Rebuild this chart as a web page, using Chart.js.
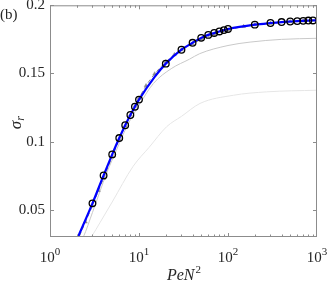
<!DOCTYPE html>
<html>
<head>
<meta charset="utf-8">
<script src="https://cdn.jsdelivr.net/npm/chart.js@4/dist/chart.umd.min.js"></script>
<style>
  html, body { margin: 0; padding: 0; background: #fff; }
  canvas { display: block; }
</style>
</head>
<body>
<canvas id="c" width="327" height="282"></canvas>
<script>
// ── Data ──
const circleX = [3, 4, 5, 6, 7, 8, 9, 10, 20, 30, 40, 50, 60, 70, 80, 90, 100, 200, 300, 400, 500, 600, 700, 800, 900];
const circleY = [0.0547, 0.0752, 0.0906, 0.1026, 0.112, 0.1195, 0.1256, 0.1308, 0.1572, 0.1674, 0.1725, 0.1761, 0.1783, 0.1797, 0.1808, 0.1818, 0.1826, 0.1858, 0.187, 0.1877, 0.1881, 0.1884, 0.1886, 0.1888, 0.1889];

const blueX = [2, 3, 4, 5, 6, 7, 8, 9, 10, 15, 20, 30, 40, 50, 60, 70, 80, 90, 100, 200, 300, 400, 500, 600, 700, 800, 900, 1000];
const blueY = [0.028, 0.0547, 0.0752, 0.0906, 0.1026, 0.112, 0.1195, 0.1256, 0.1308, 0.1475, 0.1572, 0.1674, 0.1725, 0.1761, 0.1783, 0.1797, 0.1808, 0.1818, 0.1826, 0.1858, 0.187, 0.1877, 0.1881, 0.1884, 0.1886, 0.1888, 0.1889, 0.189];

const dashX = [2, 2.5, 3, 3.5, 4, 5, 6, 7, 8, 9, 10, 12, 15, 20, 25, 30, 40, 50, 70, 100, 150, 200, 300, 500, 700, 1000];
const dashY = [0.026, 0.041, 0.053, 0.064, 0.073, 0.089, 0.1015, 0.1115, 0.1195, 0.126, 0.1318, 0.141, 0.1497, 0.1585, 0.1638, 0.1674, 0.1718, 0.175, 0.1788, 0.1818, 0.1845, 0.1858, 0.1868, 0.188, 0.1885, 0.1888];

const midX = [2, 2.37, 3, 4.34, 5.6, 7.3, 10.3, 14.5, 23, 37, 48, 100, 177, 400, 1000];
const midY = [0.022, 0.030, 0.048, 0.077, 0.094, 0.111, 0.128, 0.1426, 0.1535, 0.1605, 0.1645, 0.1705, 0.173, 0.175, 0.1758];

const faintX = [2, 2.94, 3.65, 5, 8.6, 13, 20.5, 30, 48.5, 115, 272, 1000];
const faintY = [0.015, 0.0304, 0.0406, 0.0557, 0.0819, 0.0958, 0.111, 0.1185, 0.128, 0.134, 0.1365, 0.1377];

const yTicks = [0.05, 0.1, 0.15, 0.2];
const yTickLabels = ['0.05', '0.1', '0.15', '0.2'];
const xDecades = [1, 10, 100, 1000];
const xDecadeExp = ['0', '1', '2', '3'];

const pts = (xs, ys) => xs.map((x, i) => ({ x, y: ys[i] }));

const AXIS = '#8c8c8c';
const TEXT = '#262626';
const SERIF = "'Liberation Serif', 'DejaVu Serif', serif";

// ── Axes, ticks and labels drawn with the scales ──
const frame = {
  id: 'frame',
  afterDatasetsDraw(chart) {
    const { ctx, chartArea: a, scales: { x, y } } = chart;
    ctx.save();
    ctx.strokeStyle = AXIS;
    ctx.lineWidth = 1;
    ctx.strokeRect(a.left + 0.5, a.top + 0.5, a.right - a.left - 1, a.bottom - a.top - 1);

    ctx.beginPath();
    // y ticks, left and right, inward
    yTicks.forEach(v => {
      const py = Math.round(y.getPixelForValue(v)) + 0.5;
      ctx.moveTo(a.left, py); ctx.lineTo(a.left + 4, py);
      ctx.moveTo(a.right, py); ctx.lineTo(a.right - 4, py);
    });
    // x ticks, log major and minor, bottom and top
    for (let d = 0; d < 3; d++) {
      for (let m = 1; m <= 9; m++) {
        const v = xDecades[d] * m;
        const px = Math.round(x.getPixelForValue(v)) + 0.5;
        const len = m === 1 ? 4 : 2.5;
        ctx.moveTo(px, a.bottom); ctx.lineTo(px, a.bottom - len);
        ctx.moveTo(px, a.top); ctx.lineTo(px, a.top + len);
      }
    }
    ctx.stroke();

    ctx.fillStyle = TEXT;
    // y tick labels
    ctx.font = '15px ' + SERIF;
    ctx.textAlign = 'right';
    ctx.textBaseline = 'middle';
    yTicks.forEach((v, i) => ctx.fillText(yTickLabels[i], a.left - 5, y.getPixelForValue(v)));

    // x tick labels 10^k
    ctx.textBaseline = 'alphabetic';
    ctx.textAlign = 'left';
    xDecades.forEach((v, i) => {
      ctx.font = '15px ' + SERIF;
      const w1 = ctx.measureText('10').width;
      ctx.font = '11px ' + SERIF;
      const w2 = ctx.measureText(xDecadeExp[i]).width;
      const left = x.getPixelForValue(v) - (w1 + w2) / 2;
      ctx.font = '15px ' + SERIF;
      ctx.fillText('10', left, 262);
      ctx.font = '11px ' + SERIF;
      ctx.fillText(xDecadeExp[i], left + w1, 255);
    });

    // x axis label PeN^2
    ctx.font = 'italic 16px ' + SERIF;
    const wl = ctx.measureText('PeN').width;
    ctx.font = '11px ' + SERIF;
    const ws = ctx.measureText('2').width;
    const lx = (a.left + a.right) / 2 - (wl + ws) / 2;
    ctx.font = 'italic 16px ' + SERIF;
    ctx.fillText('PeN', lx, 280);
    ctx.font = '11px ' + SERIF;
    ctx.fillText('2', lx + wl + 1, 273);

    // y axis label sigma_r
    ctx.save();
    ctx.translate(21, (a.top + a.bottom) / 2 + 8);
    ctx.rotate(-Math.PI / 2);
    ctx.font = 'italic 17px ' + SERIF;
    ctx.fillText('σ', 0, 0);
    const wsig = ctx.measureText('σ').width;
    ctx.font = 'italic 12px ' + SERIF;
    ctx.fillText('r', wsig, 3);
    ctx.restore();

    // panel tag
    ctx.font = '15px ' + SERIF;
    ctx.fillText('(b)', 0, 19);
    ctx.restore();
  }
};

const lineBase = { showLine: true, pointRadius: 0, fill: false, clip: 0, cubicInterpolationMode: 'monotone' };

new Chart(document.getElementById('c'), {
  type: 'scatter',
  data: {
    datasets: [
      { ...lineBase, label: 'faint', data: pts(faintX, faintY), borderColor: '#e6e6e6', borderWidth: 1, order: 5 },
      { ...lineBase, label: 'mid', data: pts(midX, midY), borderColor: '#c9c9c9', borderWidth: 1, order: 4 },
      { ...lineBase, label: 'dash', data: pts(dashX, dashY), borderColor: '#8a8a8a', borderWidth: 1, borderDash: [4, 3],
        pointRadius: 2.2, pointStyle: 'triangle', pointBackgroundColor: '#8a8a8a', pointBorderColor: '#8a8a8a', pointBorderWidth: 0.5, order: 3 },
      { ...lineBase, label: 'blue', data: pts(blueX, blueY), borderColor: '#0000ff', borderWidth: 2.2, order: 2 },
      { label: 'circles', data: pts(circleX, circleY), showLine: false, pointRadius: 3.3, pointBorderWidth: 1.3,
        pointBorderColor: '#000', pointBackgroundColor: 'rgba(0,0,0,0)', order: 1 }
    ]
  },
  options: {
    responsive: false,
    animation: false,
    devicePixelRatio: 1,
    layout: { padding: { left: 50, right: 10, top: 5, bottom: 45 } },
    plugins: { legend: { display: false }, tooltip: { enabled: false } },
    scales: {
      x: { type: 'logarithmic', min: 1, max: 1000, display: false },
      y: { type: 'linear', min: 0.03, max: 0.2, display: false }
    }
  },
  plugins: [frame]
});
</script>
</body>
</html>
